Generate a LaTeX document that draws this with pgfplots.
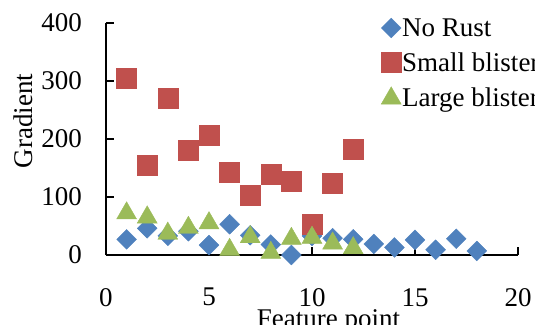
\documentclass[border=0pt]{standalone}
\usepackage{fontspec}
\setmainfont{Liberation Serif}
\usepackage{pgfplots}
\pgfplotsset{compat=1.18}
\definecolor{cblue}{HTML}{4F81BD}
\definecolor{cred}{HTML}{C0504D}
\definecolor{cgreen}{HTML}{9BBB59}
\newcommand{\bigf}{\fontsize{27}{32}\selectfont}
\begin{document}
\begin{tikzpicture}
\path[use as bounding box, clip] (-106pt,-69pt) rectangle (429pt,255pt);
\begin{axis}[
  anchor=origin, at={(0pt,0pt)},
  x=20.6pt, y=0.58pt,
  xmin=0, xmax=20, ymin=0, ymax=400,
  axis x line=bottom, axis y line=left,
  axis line style={-, line width=1.5pt, black},
  xtick={0,5,10,15,20}, ytick={0,100,200,300,400},
  tick align=inside,
  major tick length=8pt,
  tick style={line width=1.5pt, black},
  /pgf/number format/assume math mode=true,
  tick label style={font=\bigf},
  yticklabel style={inner sep=0pt, anchor=east, xshift=-24pt},
  xticklabel style={inner sep=0pt, anchor=north, yshift=-33pt},
  clip=false,
  legend style={at={(axis cs:13.35,410)}, anchor=north west, draw=none, fill=none,
    font=\bigf, row sep=13pt, inner sep=0pt, nodes={inner sep=1pt}},
  legend cell align=left,
  legend image code/.code={\draw[#1] plot coordinates {(0pt,0pt)};},
]
\addplot[only marks, mark=square*, mark size=7pt, mark options={rotate=45, fill=cblue, draw=cblue}, color=cblue]
coordinates {(1,27)(2,46)(3,33)(4,41)(5,17)(6,53)(7,34)(8,18)(9,0)(10,33)(11,29)(12,27)(13,19)(14,13)(15,26)(16,9)(17,28)(18,7)};
\addlegendentry{No Rust}
\addplot[only marks, mark=square*, mark size=10pt, mark options={fill=cred, draw=cred}, color=cred]
coordinates {(1,305)(2,154)(3,270)(4,180)(5,206)(6,142)(7,103)(8,140)(9,128)(10,53)(11,124)(12,182)};
\addlegendentry{Small blister}
\addplot[only marks, mark=triangle*, mark size=11.5pt, mark options={fill=cgreen, draw=cgreen}, color=cgreen]
coordinates {(1,72)(2,65)(3,37)(4,47)(5,55)(6,9)(7,31)(8,4)(9,28)(10,30)(11,20)(12,12)};
\addlegendentry{Large blister}
\node[rotate=90, font=\bigf, inner sep=0pt] at (axis cs:-4.03,231) {Gradient};
\node[anchor=north, font=\bigf, inner sep=0pt] at (axis cs:10.8,-93) {Feature point};
\end{axis}
\end{tikzpicture}
\end{document}
